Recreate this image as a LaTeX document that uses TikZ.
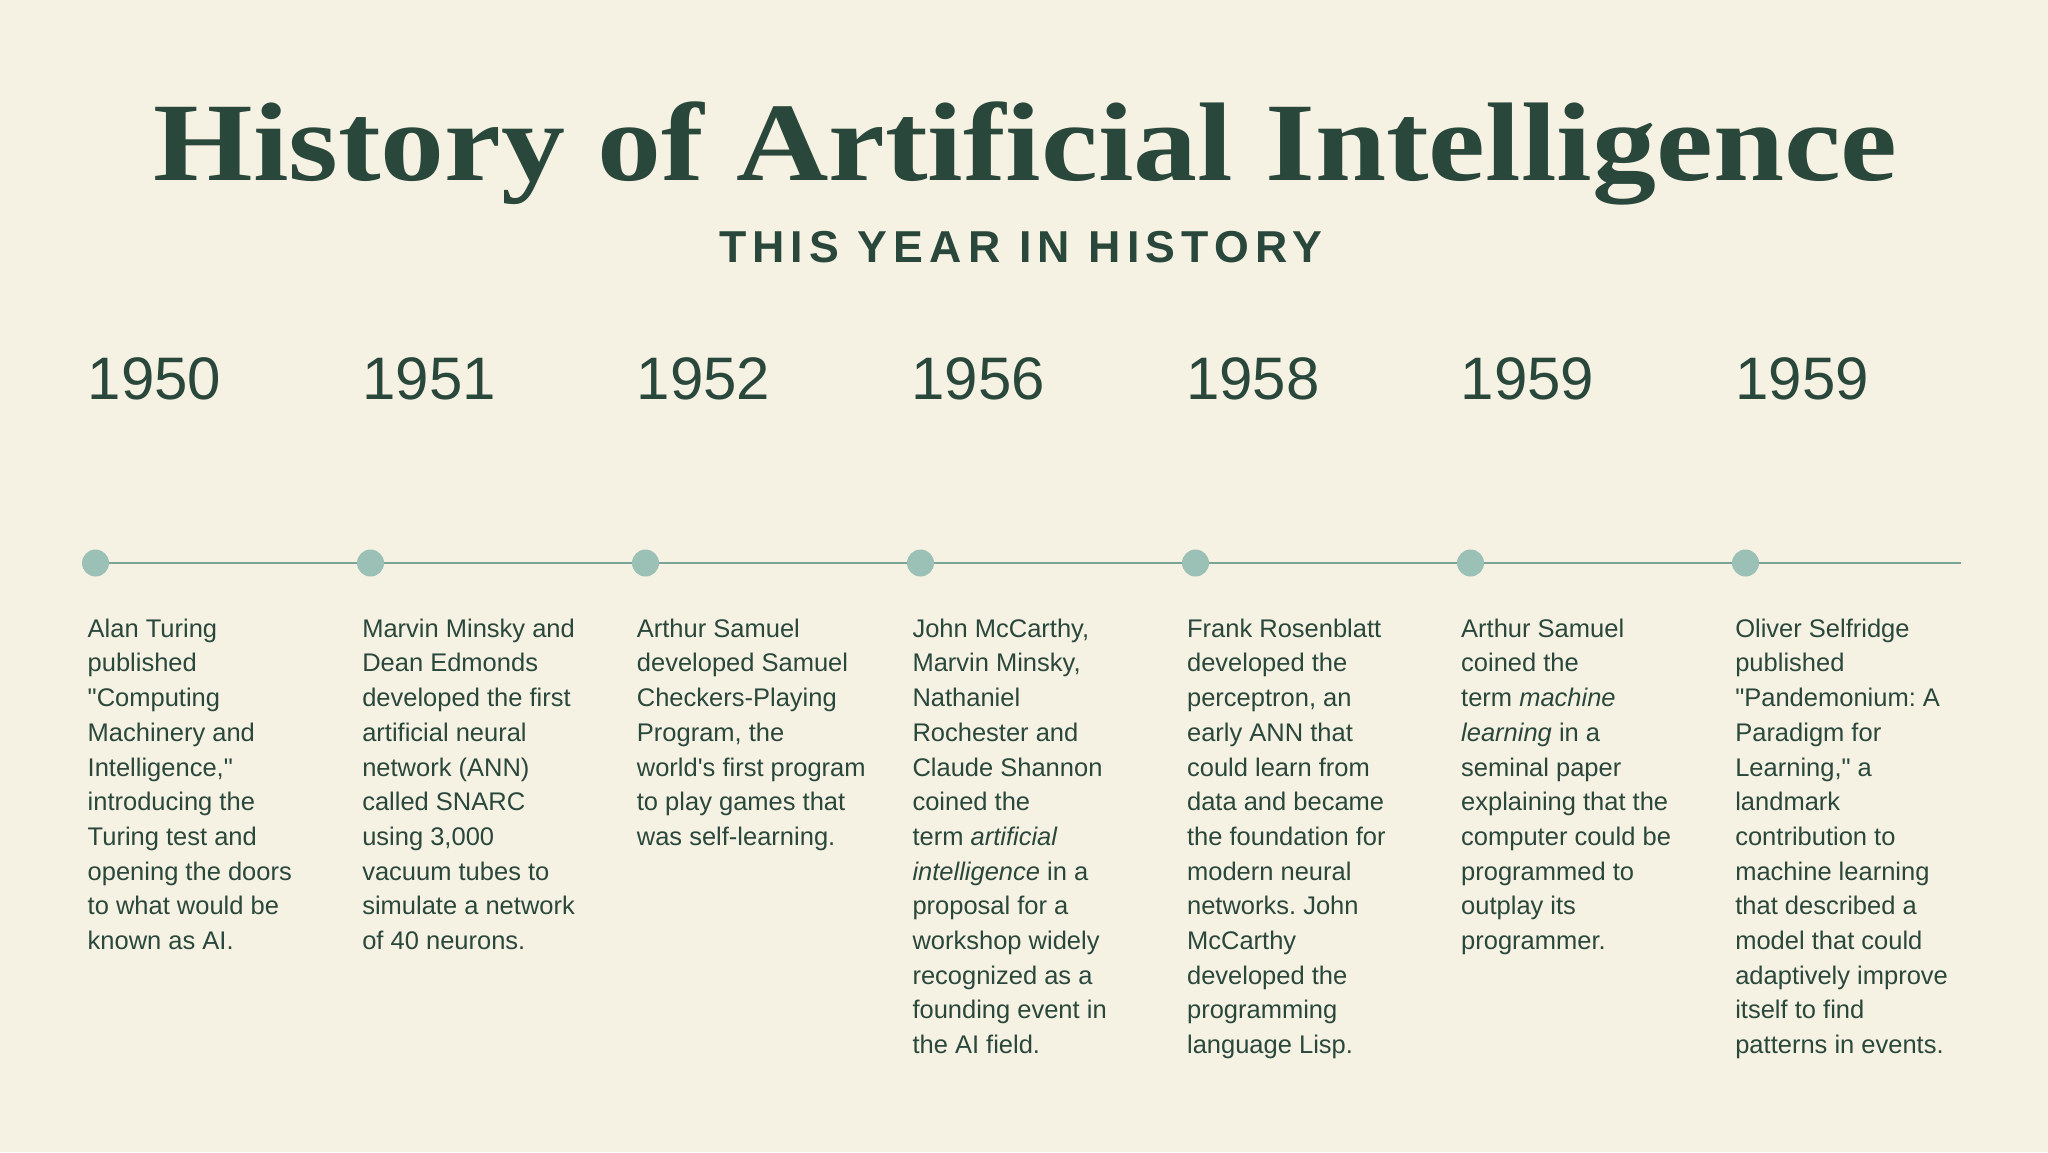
\documentclass[tikz,border=0pt]{standalone}
\usepackage{fontspec}
\setmainfont{Liberation Sans}
\newfontfamily\titlefont{Liberation Serif}
\newfontfamily\subfont{Liberation Sans}[LetterSpace=13.8]
\usetikzlibrary{backgrounds}
\definecolor{bgc}{HTML}{F6F2E3}
\definecolor{ink}{HTML}{2A473C}
\definecolor{dotc}{HTML}{9BC0B5}
\definecolor{linec}{HTML}{7AA596}
\newcommand{\dq}{\textquotedbl}
\newcommand{\sq}{\textquotesingle}
\tikzset{
  yearlbl/.style={anchor=base west, inner sep=0pt, text=ink, font=\fontsize{60}{60}\selectfont},
  bodytxt/.style={anchor=north west, inner sep=0pt, text=ink, align=left, font=\frenchspacing\fontsize{25.5}{34.7}\selectfont},
  tdot/.style={circle, fill=dotc, minimum size=27pt, inner sep=0pt},
  tline/.style={draw=linec, line width=2.6pt},
}
\begin{document}
\begin{tikzpicture}[x=1pt,y=-1pt]
\useasboundingbox (0,0) rectangle (2048,1152);
\begin{scope}[on background layer]
\fill[bgc] (0,0) rectangle (2048,1152);
\end{scope}
\node[anchor=base, inner sep=0pt, text=ink] (title) at (1025.5,180)
  {\scalebox{1.144}[1]{\titlefont\bfseries\fontsize{111.8}{112}\selectfont History of Artificial Intelligence}};
\node[anchor=base, inner sep=0pt, text=ink] (sub) at (1020.5,262)
  {\subfont\bfseries\fontsize{44.7}{45}\selectfont THIS YEAR IN HISTORY};
% years
\node[yearlbl] (y1) at (87.5,399) {1950};
\node[yearlbl] (y2) at (362.1,399) {1951};
\node[yearlbl] (y3) at (636.7,399) {1952};
\node[yearlbl] (y4) at (911.3,399) {1956};
\node[yearlbl] (y5) at (1185.9,399) {1958};
\node[yearlbl] (y6) at (1460.5,399) {1959};
\node[yearlbl] (y7) at (1735.1,399) {1959};
% dots
\node[tdot] (d1) at (95.5,563) {};
\node[tdot] (d2) at (370.5,563) {};
\node[tdot] (d3) at (645.5,563) {};
\node[tdot] (d4) at (920.5,563) {};
\node[tdot] (d5) at (1195.5,563) {};
\node[tdot] (d6) at (1470.5,563) {};
\node[tdot] (d7) at (1745.5,563) {};
\coordinate (lend) at (1961,563);
\begin{scope}[on background layer]
\draw[tline] (d1.center) -- (d2.center) -- (d3.center) -- (d4.center) -- (d5.center) -- (d6.center) -- (d7.center) -- (lend);
\end{scope}
% texts
\node[bodytxt] (t1) at (87.5,612.7) {\strut Alan Turing\\published\\\dq Computing\\Machinery and\\Intelligence,\dq\\introducing the\\Turing test and\\opening the doors\\to what would be\\known as AI.};
\node[bodytxt] (t2) at (362.1,612.7) {\strut Marvin Minsky and\\Dean Edmonds\\developed the first\\artificial neural\\network (ANN)\\called SNARC\\using 3,000\\vacuum tubes to\\simulate a network\\of 40 neurons.};
\node[bodytxt] (t3) at (636.7,612.7) {\strut Arthur Samuel\\developed Samuel\\Checkers-Playing\\Program, the\\world\sq s first program\\to play games that\\was self-learning.};
\node[bodytxt] (t4) at (912.3,612.7) {\strut John McCarthy,\\Marvin Minsky,\\Nathaniel\\Rochester and\\Claude Shannon\\coined the\\term \textit{artificial}\\\textit{intelligence} in a\\proposal for a\\workshop widely\\recognized as a\\founding event in\\the AI field.};
\node[bodytxt] (t5) at (1186.9,612.7) {\strut Frank Rosenblatt\\developed the\\perceptron, an\\early ANN that\\could learn from\\data and became\\the foundation for\\modern neural\\networks. John\\McCarthy\\developed the\\programming\\language Lisp.};
\node[bodytxt] (t6) at (1461,612.7) {\strut Arthur Samuel\\coined the\\term \textit{machine}\\\textit{learning} in a\\seminal paper\\explaining that the\\computer could be\\programmed to\\outplay its\\programmer.};
\node[bodytxt] (t7) at (1735.1,612.7) {\strut Oliver Selfridge\\published\\\dq Pandemonium: A\\Paradigm for\\Learning,\dq{} a\\landmark\\contribution to\\machine learning\\that described a\\model that could\\adaptively improve\\itself to find\\patterns in events.};
\end{tikzpicture}
\end{document}
